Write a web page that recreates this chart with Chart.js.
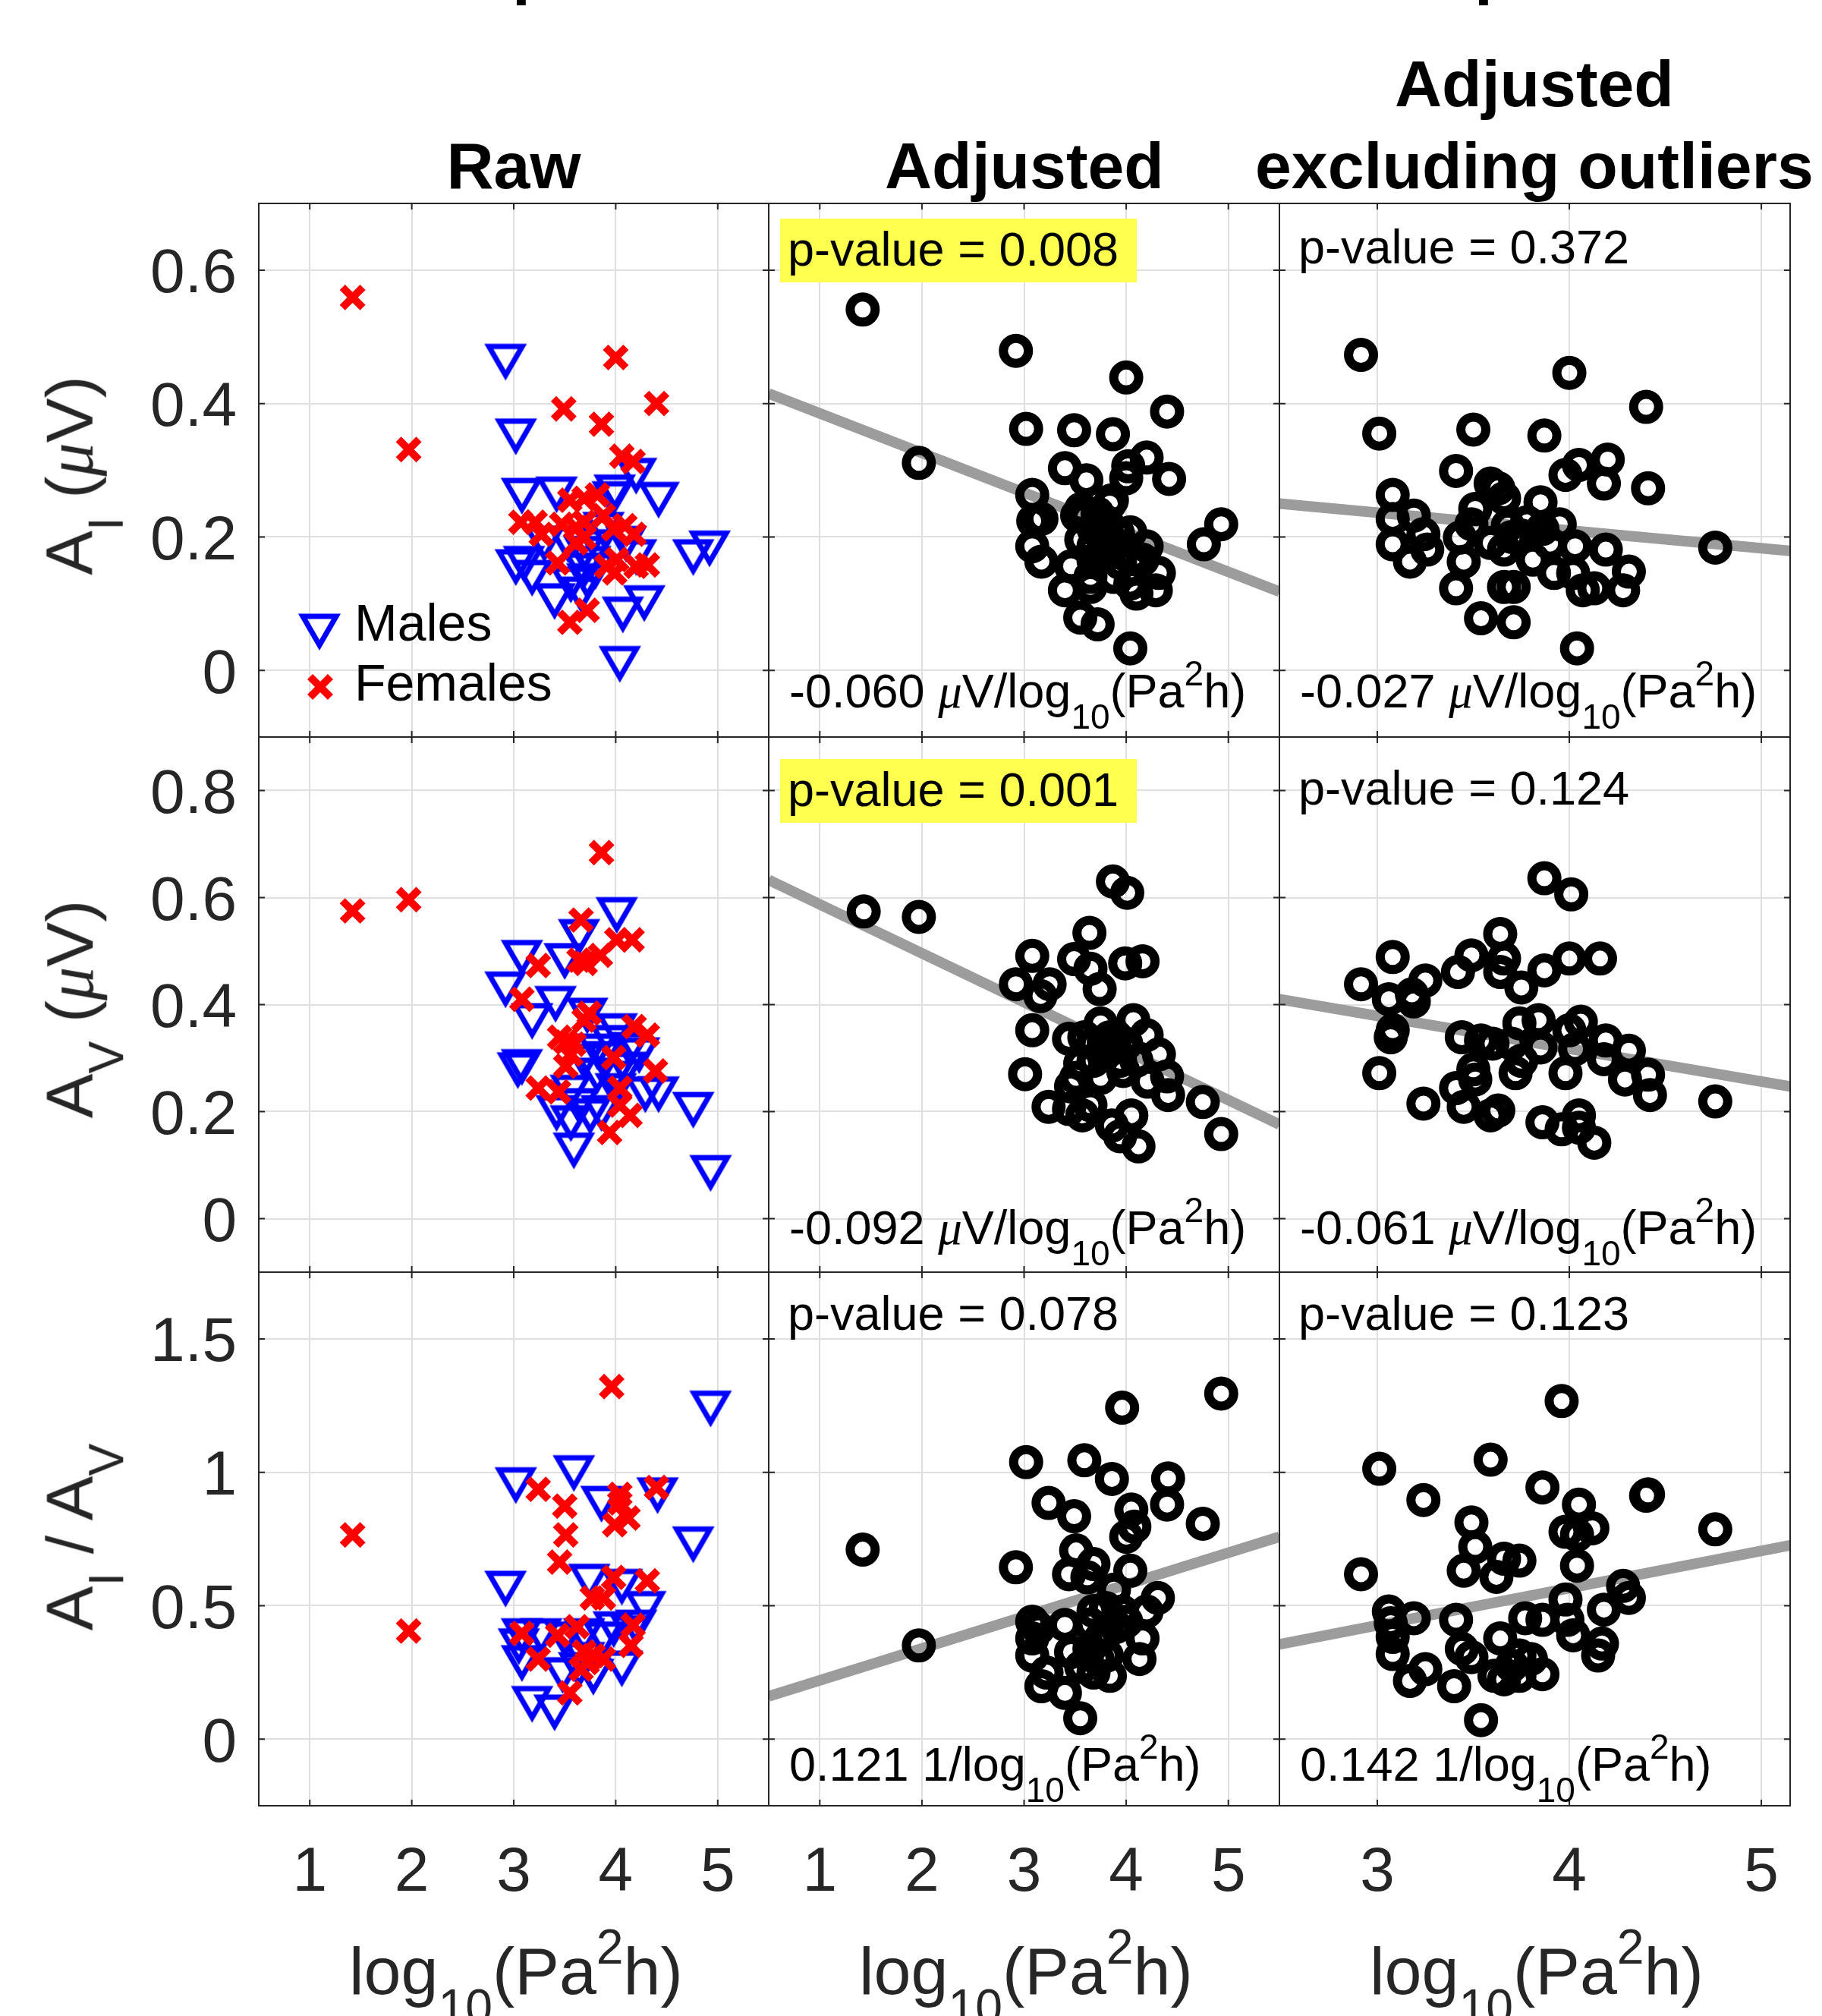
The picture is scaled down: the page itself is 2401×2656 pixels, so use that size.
<!DOCTYPE html>
<html>
<head>
<meta charset="utf-8">
<title>Scatter grid</title>
<script src="https://cdn.jsdelivr.net/npm/chart.js@4.4.1/dist/chart.umd.min.js"></script>
<style>
html,body{margin:0;padding:0;background:#fff;}
body{width:2401px;height:2656px;position:relative;overflow:hidden;font-family:"Liberation Sans",Arial,Helvetica,sans-serif;}
canvas{position:absolute;}
.t{position:absolute;white-space:nowrap;color:#000;line-height:1;}
.sb{font-size:73%;position:relative;top:0.62em;line-height:0;}
.sp{font-size:73%;position:relative;top:-0.62em;line-height:0;}
.mu{font-family:"Liberation Serif","DejaVu Serif",serif;font-style:italic;}
.hl{position:absolute;background:#ffff50;}
</style>
</head>
<body>
<script>
// ---------------- DATA ----------------
const xTicksFull = [1, 2, 3, 4, 5];
const xTicksExcl = [3, 4, 5];
const yTicksAI = [0, 0.2, 0.4, 0.6];
const yTicksAV = [0, 0.2, 0.4, 0.6, 0.8];
const yTicksRatio = [0, 0.5, 1, 1.5];
const xRangeFull = [0.5, 5.5];
const xRangeExcl = [2.49, 5.15];
const yRangeAI = [-0.1, 0.7];
const yRangeAV = [-0.1, 0.9];
const yRangeRatio = [-0.25, 1.75];

const columnTitles = [['Raw'], ['Adjusted'], ['Adjusted', 'excluding outliers']];
const rowLabels = [
  'A<span class="sb">I</span> (<span class="mu">μ</span>V)',
  'A<span class="sb">V</span> (<span class="mu">μ</span>V)',
  'A<span class="sb">I</span> / A<span class="sb">V</span>'
];
const xAxisLabel = 'log<span class="sb">10</span>(Pa<span class="sp">2</span>h)';
const legendLabels = ['Males', 'Females'];
const pValues = [['0.008', '0.372'], ['0.001', '0.124'], ['0.078', '0.123']];
const pHighlighted = [[true, false], [true, false], [false, false]];
const slopes = [['-0.060', '-0.027'], ['-0.092', '-0.061'], ['0.121', '0.142']];
const slopeUnits = [
  '<span class="mu">μ</span>V/log<span class="sb">10</span>(Pa<span class="sp">2</span>h)',
  '<span class="mu">μ</span>V/log<span class="sb">10</span>(Pa<span class="sp">2</span>h)',
  '1/log<span class="sb">10</span>(Pa<span class="sp">2</span>h)'
];

// Row 1: A_I
const rawAI_males = [[2.92,0.464],[3.02,0.352],[3.08,0.263],[3.42,0.265],[3.99,0.268],[3.97,0.258],[4.20,0.293],[4.42,0.257],
  [4.76,0.171],[4.92,0.184],[3.02,0.156],[3.10,0.161],[3.18,0.140],[3.40,0.105],[3.66,0.115],[4.07,0.085],
  [4.28,0.102],[4.04,0.011],[3.75,0.161],[3.69,0.176],[3.82,0.186],[4.20,0.171],[3.53,0.191],[3.30,0.191],
  [3.88,0.212],[3.69,0.151],[3.56,0.130],[4.10,0.191],[3.80,0.150],[3.72,0.135]];
const rawAI_females = [[1.42,0.559],[1.97,0.331],[4.00,0.469],[4.40,0.400],[3.49,0.392],[3.86,0.369],[4.06,0.321],[4.17,0.313],
  [3.55,0.255],[3.69,0.258],[3.82,0.263],[3.07,0.222],[3.21,0.222],[3.27,0.204],[3.47,0.219],[3.61,0.214],
  [3.69,0.199],[3.88,0.232],[3.98,0.212],[4.09,0.217],[4.18,0.204],[3.61,0.191],[3.43,0.161],[3.91,0.156],
  [4.01,0.166],[3.99,0.146],[4.20,0.156],[4.31,0.158],[3.72,0.090],[3.55,0.072],[3.69,0.222]];
const adjAI = [[1.42,0.541],[1.97,0.311],[2.92,0.479],[4.00,0.439],[4.40,0.388],[3.02,0.362],[3.49,0.360],[3.87,0.354],
  [4.20,0.319],[4.02,0.306],[4.42,0.287],[3.40,0.303],[3.61,0.285],[3.08,0.263],[3.86,0.255],[4.00,0.288],
  [3.09,0.224],[3.17,0.227],[3.08,0.186],[3.17,0.163],[3.52,0.232],[3.56,0.196],[3.68,0.212],[3.81,0.222],
  [3.68,0.186],[3.88,0.191],[4.04,0.207],[4.20,0.186],[4.16,0.166],[4.32,0.146],[3.46,0.156],[3.65,0.140],
  [4.04,0.130],[4.10,0.115],[4.29,0.120],[3.40,0.120],[3.65,0.125],[3.55,0.079],[3.72,0.069],[4.04,0.033],
  [4.76,0.189],[4.93,0.219],[3.56,0.242],[3.75,0.212],[3.78,0.176],[3.94,0.161],[3.88,0.140],[3.68,0.165],
  [3.84,0.250],[4.07,0.170],[3.60,0.230],[3.72,0.235],[3.92,0.205],[3.80,0.195]];
const exclAI = [[2.915,0.473],[4.00,0.446],[4.40,0.395],[3.01,0.355],[3.50,0.361],[3.87,0.352],[3.41,0.299],[4.20,0.316],
  [4.05,0.308],[3.98,0.293],[4.18,0.280],[4.41,0.273],[3.08,0.263],[3.59,0.280],[3.63,0.273],[3.66,0.258],
  [3.85,0.252],[3.08,0.227],[3.19,0.232],[3.51,0.242],[3.49,0.219],[3.24,0.204],[3.08,0.189],[3.26,0.181],
  [3.17,0.163],[3.43,0.199],[3.45,0.163],[3.41,0.123],[3.54,0.078],[3.71,0.072],[4.04,0.033],[4.76,0.184],
  [3.66,0.125],[3.71,0.125],[3.66,0.181],[3.75,0.202],[3.86,0.212],[3.95,0.219],[4.03,0.186],[3.92,0.146],
  [4.02,0.146],[4.07,0.120],[4.13,0.123],[4.19,0.181],[4.31,0.148],[4.28,0.120],[3.68,0.217],[3.78,0.222],
  [3.81,0.166],[3.59,0.191],[3.70,0.200],[3.90,0.190]];
const fitAI_adj = [[0.5, 0.415], [5.5, 0.118]];
const fitAI_excl = [[2.49, 0.250], [5.15, 0.179]];

// Row 2: A_V
const rawAV_males = [[4.01,0.569],[3.64,0.528],[3.08,0.489],[3.50,0.483],[2.92,0.430],[3.41,0.403],[3.18,0.371],[3.72,0.381],
  [4.01,0.352],[3.04,0.279],[3.08,0.285],[3.82,0.314],[3.69,0.295],[4.14,0.317],[4.23,0.307],[4.42,0.234],
  [4.29,0.234],[4.76,0.205],[4.93,0.087],[3.42,0.199],[3.56,0.180],[3.59,0.129],[3.86,0.199],[3.64,0.212],
  [3.82,0.269],[3.98,0.263],[3.56,0.237],[3.75,0.193],[3.90,0.300],[4.10,0.280],[4.00,0.240],[3.95,0.330]];
const rawAV_females = [[1.42,0.575],[1.97,0.596],[3.86,0.684],[3.66,0.558],[4.01,0.521],[4.16,0.521],[3.24,0.473],[3.64,0.483],
  [3.85,0.492],[3.70,0.477],[3.08,0.410],[3.74,0.384],[3.69,0.371],[3.45,0.339],[3.51,0.330],[3.56,0.307],
  [4.18,0.359],[4.31,0.343],[3.98,0.301],[3.51,0.285],[4.39,0.276],[3.24,0.244],[3.44,0.237],[4.04,0.244],
  [4.04,0.212],[4.14,0.193],[3.94,0.161],[3.59,0.326]];
const adjAV = [[1.43,0.574],[1.97,0.564],[3.87,0.630],[4.01,0.609],[3.64,0.534],[3.08,0.491],[3.49,0.485],[3.65,0.467],
  [3.99,0.477],[4.16,0.481],[2.92,0.438],[3.25,0.438],[3.74,0.429],[3.16,0.416],[3.08,0.352],[3.75,0.365],
  [4.07,0.371],[3.44,0.336],[4.20,0.343],[3.68,0.327],[3.84,0.339],[4.32,0.307],[3.01,0.270],[3.97,0.276],
  [4.40,0.266],[3.75,0.263],[3.51,0.263],[3.46,0.247],[4.21,0.256],[4.41,0.231],[3.24,0.209],[3.44,0.205],
  [3.57,0.193],[3.65,0.212],[3.86,0.174],[4.05,0.193],[3.94,0.154],[4.12,0.135],[4.75,0.218],[4.93,0.158],
  [3.59,0.339],[3.81,0.314],[3.94,0.295],[3.68,0.295],[3.55,0.290],[4.10,0.295],[4.00,0.327],[3.78,0.330],[3.90,0.340]];
const exclAV = [[3.87,0.636],[4.01,0.606],[3.64,0.532],[3.08,0.489],[3.49,0.492],[3.66,0.486],[4.00,0.486],[4.16,0.486],
  [2.915,0.438],[3.25,0.445],[3.42,0.461],[3.64,0.461],[3.87,0.464],[3.75,0.432],[3.06,0.410],[3.18,0.419],
  [3.19,0.406],[3.08,0.352],[3.07,0.339],[3.44,0.339],[3.54,0.333],[3.60,0.327],[3.74,0.365],[3.84,0.371],
  [4.00,0.352],[4.06,0.368],[3.85,0.320],[3.70,0.327],[4.19,0.333],[4.03,0.317],[4.18,0.298],[4.31,0.314],
  [3.01,0.272],[3.50,0.279],[3.72,0.272],[3.75,0.295],[3.98,0.272],[4.29,0.260],[4.41,0.269],[4.42,0.231],
  [3.41,0.244],[3.51,0.260],[3.24,0.215],[3.45,0.209],[3.63,0.202],[3.59,0.193],[3.86,0.180],[3.96,0.167],
  [4.05,0.193],[4.05,0.170],[4.13,0.142],[4.76,0.219]];
const fitAV_adj = [[0.5, 0.633], [5.5, 0.176]];
const fitAV_excl = [[2.49, 0.410], [5.15, 0.247]];

// Row 3: A_I / A_V
const rawRatio_males = [[4.93,1.242],[3.59,1.000],[3.02,0.955],[3.86,0.885],[4.41,0.917],[4.76,0.733],[2.92,0.567],[3.74,0.593],
  [4.06,0.574],[4.29,0.491],[3.08,0.389],[3.05,0.351],[3.08,0.288],[3.18,0.135],[3.40,0.103],[3.48,0.243],
  [3.64,0.262],[3.78,0.237],[4.06,0.268],[4.20,0.421],[3.98,0.415],[3.50,0.377],[3.88,0.377],[3.69,0.389],
  [3.69,0.300],[3.27,0.389],[4.15,0.400]];
const rawRatio_females = [[1.42,0.765],[1.97,0.405],[3.96,1.321],[3.24,0.936],[3.50,0.873],[3.51,0.765],[3.45,0.663],[4.04,0.917],
  [4.04,0.885],[4.12,0.828],[3.99,0.803],[4.40,0.943],[3.98,0.606],[4.31,0.593],[3.77,0.529],[3.88,0.529],
  [3.08,0.396],[3.43,0.389],[3.62,0.421],[3.24,0.300],[3.69,0.326],[3.78,0.313],[3.88,0.300],[3.66,0.262],
  [4.17,0.427],[4.15,0.351],[3.55,0.173],[3.72,0.287]];
const adjRatio = [[1.42,0.710],[1.97,0.351],[4.93,1.295],[3.96,1.242],[3.02,1.038],[3.59,1.045],[3.86,0.975],[4.41,0.977],
  [3.24,0.885],[3.49,0.835],[4.40,0.879],[4.05,0.860],[4.08,0.796],[4.00,0.758],[4.75,0.807],[3.51,0.707],
  [2.92,0.644],[3.68,0.656],[3.44,0.618],[3.62,0.606],[4.04,0.631],[4.31,0.529],[3.80,0.491],[3.96,0.478],
  [4.20,0.478],[3.08,0.440],[3.14,0.415],[3.40,0.428],[3.08,0.377],[3.81,0.402],[4.16,0.377],[3.08,0.313],
  [3.46,0.326],[3.64,0.338],[3.81,0.313],[4.13,0.300],[3.22,0.249],[3.17,0.198],[3.40,0.173],[3.55,0.078],
  [3.68,0.249],[3.84,0.237],[3.75,0.377],[4.00,0.440],[3.56,0.270],[3.65,0.430],[3.68,0.480],[3.88,0.560],
  [3.72,0.300],[3.90,0.420]];
const exclRatio = [[3.96,1.267],[3.01,1.013],[3.59,1.047],[3.24,0.896],[3.86,0.943],[4.05,0.879],[4.41,0.917],[4.40,0.912],
  [3.49,0.812],[4.12,0.790],[3.98,0.777],[4.04,0.765],[4.76,0.786],[3.51,0.720],[3.66,0.676],[3.74,0.669],
  [2.915,0.618],[3.45,0.631],[3.62,0.608],[4.04,0.650],[4.28,0.574],[4.31,0.529],[3.98,0.523],[3.06,0.478],
  [3.19,0.453],[3.07,0.434],[3.08,0.383],[3.08,0.319],[3.41,0.447],[4.18,0.485],[3.77,0.453],[3.86,0.447],
  [3.99,0.447],[4.02,0.389],[3.64,0.377],[4.17,0.358],[4.15,0.313],[3.44,0.338],[3.49,0.307],[3.74,0.313],
  [3.80,0.300],[3.86,0.243],[3.25,0.262],[3.17,0.218],[3.61,0.237],[3.66,0.224],[3.74,0.237],[3.40,0.198],
  [3.54,0.071],[3.70,0.275]];
const fitRatio_adj = [[0.5, 0.160], [5.5, 0.758]];
const fitRatio_excl = [[2.49, 0.355], [5.15, 0.726]];

// ---------------- LAYOUT ----------------
const COLS = [341, 1013, 1686, 2359];
const ROWS = [268, 971, 1676, 2379];
const M = 6;
const FAMILY = "'Liberation Sans', Arial, Helvetica, sans-serif";
const TICK_FONT = {family: FAMILY, size: 82};
const AXIS_COLOR = '#262626';
const X_RADIUS = 19, X_WIDTH = 10;

const rowYRange = [yRangeAI, yRangeAV, yRangeRatio];
const rowYTicks = [yTicksAI, yTicksAV, yTicksRatio];
const colXRange = [xRangeFull, xRangeFull, xRangeExcl];
const colXTicks = [xTicksFull, xTicksFull, xTicksExcl];

const panels = [
  {r:0, c:0, males: rawAI_males, females: rawAI_females, legend: true},
  {r:0, c:1, pts: adjAI, fit: fitAI_adj},
  {r:0, c:2, pts: exclAI, fit: fitAI_excl},
  {r:1, c:0, males: rawAV_males, females: rawAV_females},
  {r:1, c:1, pts: adjAV, fit: fitAV_adj},
  {r:1, c:2, pts: exclAV, fit: fitAV_excl},
  {r:2, c:0, males: rawRatio_males, females: rawRatio_females},
  {r:2, c:1, pts: adjRatio, fit: fitRatio_adj},
  {r:2, c:2, pts: exclRatio, fit: fitRatio_excl}
];

function makeTriangle() {
  const s = 64, cv = document.createElement('canvas');
  cv.width = s; cv.height = s;
  const g = cv.getContext('2d');
  const w = 44, h = 38;
  g.strokeStyle = '#0000ff'; g.lineWidth = 7; g.lineJoin = 'miter';
  g.beginPath();
  g.moveTo(s/2 - w/2, s/2 - h/2);
  g.lineTo(s/2 + w/2, s/2 - h/2);
  g.lineTo(s/2, s/2 + h/2);
  g.closePath();
  g.stroke();
  return cv;
}
const triStyle = makeTriangle();

function drawX(ctx, x, y) {
  const d = X_RADIUS * Math.SQRT1_2;
  ctx.save();
  ctx.strokeStyle = '#ff0000'; ctx.lineWidth = X_WIDTH;
  ctx.beginPath();
  ctx.moveTo(x - d, y - d); ctx.lineTo(x + d, y + d);
  ctx.moveTo(x + d, y - d); ctx.lineTo(x - d, y + d);
  ctx.stroke();
  ctx.restore();
}

const boxPlugin = {
  id: 'matlabBox',
  afterDatasetsDraw(chart) {
    const {ctx, chartArea: a, scales: {x, y}} = chart;
    ctx.save();
    ctx.strokeStyle = AXIS_COLOR; ctx.lineWidth = 2;
    ctx.strokeRect(a.left, a.top, a.right - a.left, a.bottom - a.top);
    const tl = 8;
    ctx.beginPath();
    x.ticks.forEach(t => {
      const px = x.getPixelForValue(t.value);
      ctx.moveTo(px, a.bottom); ctx.lineTo(px, a.bottom - tl);
      ctx.moveTo(px, a.top); ctx.lineTo(px, a.top + tl);
    });
    y.ticks.forEach(t => {
      const py = y.getPixelForValue(t.value);
      ctx.moveTo(a.left, py); ctx.lineTo(a.left + tl, py);
      ctx.moveTo(a.right, py); ctx.lineTo(a.right - tl, py);
    });
    ctx.stroke();
    ctx.restore();
  }
};

const legendPlugin = {
  id: 'rawLegend',
  afterDatasetsDraw(chart, args, opts) {
    if (!opts.show) return;
    const {ctx, chartArea: a} = chart;
    ctx.drawImage(triStyle, a.left + 80 - triStyle.width/2, a.top + 563 - triStyle.height/2);
    drawX(ctx, a.left + 81, a.top + 637);
  }
};

const fmt = v => String(Math.round(v * 100) / 100);
const toPts = arr => arr.map(([x, y]) => ({x, y}));
function noPad(s) { s.paddingTop = 0; s.paddingBottom = 0; s.paddingLeft = 0; s.paddingRight = 0; }

panels.forEach(p => {
  const L = COLS[p.c], R = COLS[p.c + 1], T = ROWS[p.r], B = ROWS[p.r + 1];
  const left = p.c === 0 ? 0 : L - M;
  const yW = p.c === 0 ? L : 0;
  const xH = p.r === 2 ? 140 : 0;
  const top = T - M;
  const w = R + M - left;
  const h = M + (B - T) + (p.r === 2 ? xH : M);
  const cv = document.createElement('canvas');
  cv.width = w; cv.height = h;
  cv.style.left = left + 'px'; cv.style.top = top + 'px';
  cv.style.width = w + 'px'; cv.style.height = h + 'px';
  document.body.appendChild(cv);

  const datasets = [];
  if (p.males) {
    datasets.push({label: legendLabels[1], data: toPts(p.females), pointStyle: 'crossRot', pointRadius: X_RADIUS,
      pointBorderWidth: X_WIDTH, pointBorderColor: '#ff0000', pointBackgroundColor: 'rgba(0,0,0,0)', order: 0});
    datasets.push({label: legendLabels[0], data: toPts(p.males), pointStyle: triStyle, pointRadius: 22,
      pointBorderWidth: 0, order: 1});
  } else {
    datasets.push({label: 'Adjusted', data: toPts(p.pts), pointStyle: 'circle', pointRadius: 16.5,
      pointBorderWidth: 12, pointBorderColor: '#000000', pointBackgroundColor: 'rgba(0,0,0,0)', order: 0});
    datasets.push({label: 'Fit', data: toPts(p.fit), showLine: true, borderColor: '#9c9c9c', borderWidth: 14,
      pointRadius: 0, tension: 0, clip: 0, order: 1});
  }

  const xt = colXTicks[p.c], yt = rowYTicks[p.r];
  new Chart(cv, {
    type: 'scatter',
    data: {datasets},
    options: {
      responsive: false, animation: false, events: [],
      layout: {padding: {left: p.c === 0 ? 0 : M, right: M, top: M, bottom: p.r === 2 ? 0 : M}, autoPadding: false},
      plugins: {legend: {display: false}, tooltip: {enabled: false}, rawLegend: {show: !!p.legend}},
      scales: {
        x: {
          type: 'linear', position: 'bottom', min: colXRange[p.c][0], max: colXRange[p.c][1],
          afterBuildTicks: s => { s.ticks = xt.map(v => ({value: v})); },
          afterFit: s => { s.height = xH; noPad(s); },
          grid: {color: '#dfdfdf', lineWidth: 2, drawTicks: false},
          border: {display: false},
          ticks: {display: p.r === 2, padding: 40, font: TICK_FONT, color: AXIS_COLOR, maxRotation: 0, autoSkip: false,
            callback: v => fmt(v)}
        },
        y: {
          type: 'linear', position: 'left', min: rowYRange[p.r][0], max: rowYRange[p.r][1],
          afterBuildTicks: s => { s.ticks = yt.map(v => ({value: v})); },
          afterFit: s => { s.width = yW; noPad(s); },
          grid: {color: '#dfdfdf', lineWidth: 2, drawTicks: false},
          border: {display: false},
          ticks: {display: p.c === 0, padding: 29, labelOffset: 7, font: TICK_FONT, color: AXIS_COLOR, autoSkip: false,
            callback: v => fmt(v)}
        }
      }
    },
    plugins: [boxPlugin, legendPlugin]
  });
});

// ---------------- TEXT ----------------
function addText(html, x, baseline, fs, opts = {}) {
  const d = document.createElement('div');
  d.className = 't';
  d.innerHTML = html;
  d.style.fontSize = fs + 'px';
  if (opts.bold) d.style.fontWeight = 'bold';
  if (opts.color) d.style.color = opts.color;
  document.body.appendChild(d);
  const w = d.offsetWidth;
  d.style.left = (opts.align === 'center' ? x - w / 2 : x) + 'px';
  d.style.top = (baseline - 0.8465 * fs) + 'px';
  return d;
}
function addRotated(html, cx, cy, fs, color) {
  const d = document.createElement('div');
  d.className = 't';
  d.innerHTML = html;
  d.style.fontSize = fs + 'px';
  d.style.color = color;
  document.body.appendChild(d);
  const w = d.offsetWidth, h = d.offsetHeight;
  d.style.left = (cx - w / 2) + 'px';
  d.style.top = (cy - h / 2) + 'px';
  d.style.transform = 'rotate(-90deg)';
}
function addBox(x, y, w, h) {
  const d = document.createElement('div');
  d.className = 'hl';
  d.style.left = x + 'px'; d.style.top = y + 'px';
  d.style.width = w + 'px'; d.style.height = h + 'px';
  document.body.appendChild(d);
}

// cut-off figure title (only descenders visible)
addText('p', 675, -11, 86, {bold: true});
addText('p', 1943, -11, 86, {bold: true});

// column titles
const titleCenters = [677, 1350, 2022];
columnTitles.forEach((lines, c) => {
  const n = lines.length;
  lines.forEach((t, i) => addText(t, titleCenters[c], 248 - (n - 1 - i) * 108, 86, {bold: true, align: 'center'}));
});

// y-axis labels
const rowLabelCenters = [626, 1329, 2025];
rowLabels.forEach((t, r) => addRotated(t, 92.5, rowLabelCenters[r], 88, AXIS_COLOR));

// x-axis labels
[680, 1352, 2025].forEach(cx => addText(xAxisLabel, cx, 2627, 88, {align: 'center', color: AXIS_COLOR}));

// legend text
addText(legendLabels[0], 467, 844, 68);
addText(legendLabels[1], 467, 923, 68);

// annotations
const pBase = [[350, 347], [1062, 1060], [1752, 1752]];
const sBase = [932, 1639, 2346];
const hlBoxTop = [288, 1000, null];
for (let r = 0; r < 3; r++) {
  for (let k = 0; k < 2; k++) {
    const c = k + 1;
    if (pHighlighted[r][k]) addBox(COLS[c] + 15, hlBoxTop[r], 470, 84);
    addText('p-value = ' + pValues[r][k], COLS[c] + 25, pBase[r][k], 63);
    addText(slopes[r][k] + ' ' + slopeUnits[r], COLS[c] + 27, sBase[r], 63);
  }
}
</script>
</body>
</html>
